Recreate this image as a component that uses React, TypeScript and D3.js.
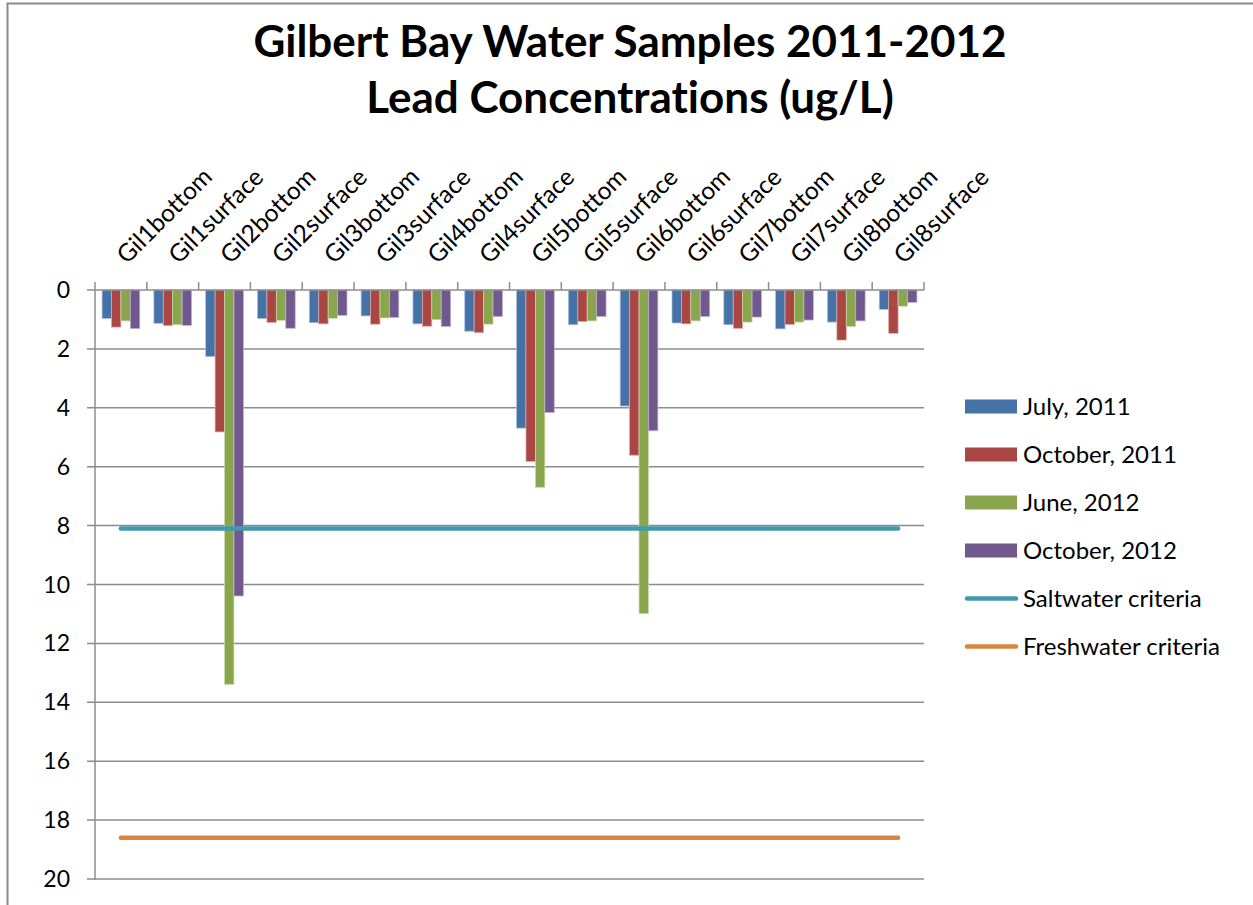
import React from "react";
import * as d3 from "d3";

const categories = [
  "Gil1bottom", "Gil1surface", "Gil2bottom", "Gil2surface",
  "Gil3bottom", "Gil3surface", "Gil4bottom", "Gil4surface",
  "Gil5bottom", "Gil5surface", "Gil6bottom", "Gil6surface",
  "Gil7bottom", "Gil7surface", "Gil8bottom", "Gil8surface",
];

const july2011 = [0.97, 1.13, 2.26, 0.97, 1.11, 0.88, 1.15, 1.40, 4.69, 1.18, 3.94, 1.12, 1.18, 1.32, 1.09, 0.66];
const october2011 = [1.26, 1.21, 4.82, 1.10, 1.15, 1.16, 1.23, 1.45, 5.82, 1.07, 5.61, 1.15, 1.30, 1.17, 1.70, 1.47];
const june2012 = [1.05, 1.18, 13.39, 1.03, 0.96, 0.95, 1.01, 1.16, 6.70, 1.05, 10.99, 1.05, 1.09, 1.09, 1.24, 0.55];
const october2012 = [1.31, 1.20, 10.39, 1.30, 0.86, 0.93, 1.24, 0.90, 4.16, 0.90, 4.78, 0.90, 0.92, 1.02, 1.05, 0.42];
const saltwaterCriteria = [8.1, 8.1, 8.1, 8.1, 8.1, 8.1, 8.1, 8.1, 8.1, 8.1, 8.1, 8.1, 8.1, 8.1, 8.1, 8.1];
const freshwaterCriteria = [18.6, 18.6, 18.6, 18.6, 18.6, 18.6, 18.6, 18.6, 18.6, 18.6, 18.6, 18.6, 18.6, 18.6, 18.6, 18.6];

const yTicks = [0, 2, 4, 6, 8, 10, 12, 14, 16, 18, 20];

const barSeries = [
  { name: "July, 2011", values: july2011, color: "#4572A7", edge: "#a9c0dc" },
  { name: "October, 2011", values: october2011, color: "#AA4643", edge: "#dca9a8" },
  { name: "June, 2012", values: june2012, color: "#89A54E", edge: "#c9dca6" },
  { name: "October, 2012", values: october2012, color: "#71588F", edge: "#bfb0d2" },
];
const lineSeries = [
  { name: "Saltwater criteria", values: saltwaterCriteria, color: "#4198AF" },
  { name: "Freshwater criteria", values: freshwaterCriteria, color: "#DB843D" },
];

const FONT = "Lato, 'Open Sans', sans-serif";

export default function App() {
  const W = 1253, H = 905;
  const left = 95, right = 924, top = 290, bottom = 879;

  const x = d3.scaleBand<string>().domain(categories).range([left, right]).paddingInner(0).paddingOuter(0);
  const bw = x.bandwidth();
  const barW = bw / 5.5;
  const gap = barW * 0.75;
  const xs = d3.scaleBand<string>().domain(barSeries.map(s => s.name)).range([gap, bw - gap]).padding(0);
  const y = d3.scaleLinear().domain([0, 20]).range([top, bottom]);

  const line = d3.line<number>()
    .x((_, i) => (x(categories[i]) as number) + bw / 2)
    .y(d => y(d));

  const legendX = 965;
  const legendY0 = 406.5;
  const legendStep = 48;

  return (
    <svg width={W} height={H} style={{ position: "fixed", left: 0, top: 0, background: "#fff", fontVariantLigatures: "none", fontFeatureSettings: "'liga' 0, 'clig' 0" }} fontFamily={FONT}>
      <rect x={0} y={0} width={W} height={H} fill="#fff" />
      <rect x={7.5} y={3.5} width={W + 20} height={H + 20} fill="none" stroke="#8a8a8a" strokeWidth={2} />

      <text x={630} y={57} textAnchor="middle" fontSize={44} fontWeight="bold" fill="#000">
        Gilbert Bay Water Samples 2011-2012
      </text>
      <text x={630} y={113} textAnchor="middle" fontSize={44} fontWeight="bold" fill="#000">
        Lead Concentrations (ug/L)
      </text>

      {/* gridlines */}
      {yTicks.filter(t => t !== 0).map(t => (
        <line key={"g" + t} x1={left - 8} x2={right} y1={y(t)} y2={y(t)} stroke="#8c8c8c" strokeWidth={1.5} />
      ))}
      {/* y axis */}
      <line x1={left} x2={left} y1={top} y2={bottom + 1} stroke="#8c8c8c" strokeWidth={1.5} />
      <line x1={left - 8} x2={left} y1={top} y2={top} stroke="#8c8c8c" strokeWidth={1.5} />
      {yTicks.map(t => (
        <text key={"yl" + t} x={70} y={y(t)} dy="0.35em" textAnchor="end" fontSize={23} fill="#000">{t}</text>
      ))}

      {/* bars */}
      {barSeries.map(s => (
        <g key={s.name}>
          {s.values.map((v, i) => {
            const bx = (x(categories[i]) as number) + (xs(s.name) as number);
            return (
              <rect key={i} x={bx} y={y(0)} width={barW} height={y(v) - y(0)} fill={s.color} stroke={s.edge} strokeWidth={0.75} />
            );
          })}
        </g>
      ))}

      {/* category axis at top */}
      <line x1={left} x2={right} y1={top} y2={top} stroke="#8c8c8c" strokeWidth={1.5} />
      {categories.map((c, i) => (
        <line key={"ct" + i} x1={x(c) as number} x2={x(c) as number} y1={top} y2={top - 8} stroke="#8c8c8c" strokeWidth={1.5} />
      ))}
      <line x1={right} x2={right} y1={top} y2={top - 8} stroke="#8c8c8c" strokeWidth={1.5} />
      {categories.map(c => {
        const cx = (x(c) as number) + bw / 2 + 6;
        const cy = 265;
        return (
          <text key={"cl" + c} x={cx} y={cy} transform={`rotate(-45 ${cx} ${cy})`} fontSize={24.5} fill="#000">{c}</text>
        );
      })}

      {/* criteria lines */}
      {lineSeries.map(s => (
        <path key={s.name} d={line(s.values) as string} fill="none" stroke={s.color} strokeWidth={4.5} strokeLinecap="round" />
      ))}

      {/* legend */}
      {barSeries.map((s, i) => (
        <g key={"lg" + s.name} transform={`translate(0, ${legendY0 + i * legendStep})`}>
          <rect x={legendX} y={-7} width={52} height={14} fill={s.color} />
          <text x={1023} y={0} dy="0.35em" fontSize={24} fill="#000">{s.name}</text>
        </g>
      ))}
      {lineSeries.map((s, j) => (
        <g key={"ll" + s.name} transform={`translate(0, ${legendY0 + (j + 4) * legendStep})`}>
          <line x1={legendX + 2} x2={legendX + 51} y1={0} y2={0} stroke={s.color} strokeWidth={4.5} strokeLinecap="round" />
          <text x={1023} y={0} dy="0.35em" fontSize={24} fill="#000">{s.name}</text>
        </g>
      ))}
    </svg>
  );
}
